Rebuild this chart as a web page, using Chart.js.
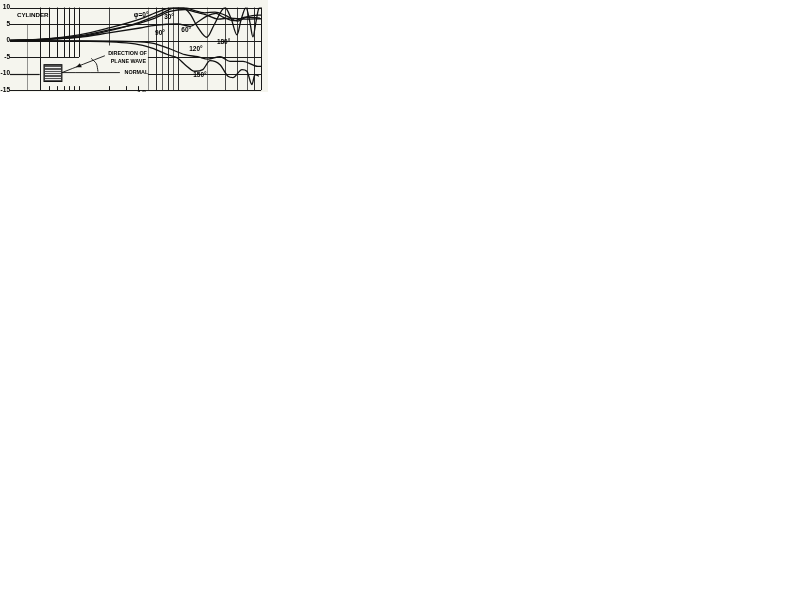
<!DOCTYPE html>
<html><head><meta charset="utf-8">
<style>html,body{margin:0;padding:0;background:#fff}#w{position:absolute;left:0;top:0;width:268px;height:92px;overflow:hidden}canvas{display:block}</style>
<script src="https://cdn.jsdelivr.net/npm/chart.js@4"></script></head>
<body><div id="w"><canvas id="c" width="268" height="94"></canvas></div>
<script>
const yTicks=[10,5,0,-5,-10,-15];
const phi0=[[.2,.05],[.4,.35],[1,1.7],[2,3.8],[4.15,6.5],[6.6,8.9],[8.8,10],[11.9,10],[14.3,9.2],[18.9,8.4],[23.9,8.6],[30.2,7.7],[40.9,5.9],[50.4,7.2],[65.2,7.7],[70,7.7]];
const phi30=[[.2,.05],[.4,.3],[1,1.4],[2,3.2],[4.15,5.3],[5.9,6.8],[8.4,8.8],[11.9,9.4],[15.7,8.5],[19.8,7.7],[25.7,6.5],[33.9,6.8],[48,6.5],[70,6.6]];
const phi60=[[.2,.05],[1,1],[2,2.3],[4.15,3.8],[5.9,4.6],[10,5],[13.4,4.3],[16,5.6],[19.8,7.4],[24.5,8.2],[28.8,7.1],[38.1,6],[48.2,7.1],[68.3,6.8]];
const phi180=[[.2,.05],[.4,.2],[1,1.1],[2,2.9],[4.15,5.6],[6.6,8],[8.8,9.7],[11.3,10],[13.4,8],[16,4],[19.8,1],[23.4,4.7],[30.2,10],[34.7,6.8],[40,1.7],[43.9,6.2],[49.3,10],[54,5.6],[58,1.1],[62.2,5.6],[66.7,9.8],[70,10]];
const phi120=[[.2,-.05],[1,-.1],[3.7,-.3],[5.5,-.8],[8,-2.3],[11.9,-4.3],[16,-4.9],[20.3,-5.6],[26.9,-4.9],[33.9,-6.3],[46,-6.3],[65,-7.8],[70,-7.8]];
const phi150=[[.2,-.05],[1,-.2],[3.7,-1],[5.5,-2.3],[8,-4.3],[10,-5.3],[11.9,-7.3],[15,-9.3],[18,-8.8],[21.3,-6.1],[26.9,-7.3],[32.4,-10.8],[36.4,-11.2],[44.9,-8.8],[50.4,-9.3],[56.6,-13.3],[60.8,-10.3],[66.7,-10.8]];
const directionLine=[[.672,-9.7],[1.83,-4.6]];
const normalLine=[[.672,-9.7],[2.6,-9.7]];
const angleArc=[[1.33,-5.4],[1.5,-7],[1.56,-9.4]];
// vertical rules: ka, dB from, dB to
const vRules=[[.3,5,-15,.45],[.4,10,-15,1],[.5,10,-5,1],[.6,10,-5,1],[.7,10,-5,1],[.8,10,-5,1],[.9,10,-5,1],[1,10,-5,1],[2,10,-1.5,.8],
 [5,10,-15,.5],[6,10,-15,.9],[7,10,-15,.7],[8,10,-15,.9],[9,10,-15,.7],[10,10,-15,.9],[20,10,-15,.5],[30,10,-15,.8],[40,10,-15,.8],[50,10,-15,.7],[60,10,-15,.9],[70,10,-15,1],
 [.5,-13.8,-15,1],[.6,-13.8,-15,1],[.7,-13.8,-15,1],[.8,-13.8,-15,1],[.9,-13.8,-15,1],[1,-13.8,-15,1],[2,-13.8,-15,1],[3,-13.8,-15,1],[4,-13.8,-15,1]];
// horizontal rules: dB, ka from, ka to
const hRules=[[10,.2,70],[5,.2,70],[0,.2,70],[-5,.2,1],[-5,5,70],[-10,.2,.4],[-10,5,70],[-15,.2,70]];
const labels=[["CYLINDER",.235,7.6,6.2],["\u03c6=0\u00b0",3.6,7.6,6.5],["30\u00b0",7.3,7.1,6.5],["90\u00b0",5.9,2.1,6.5],["60\u00b0",10.9,3.2,6.5],["180\u00b0",25,-.5,6.5],["120\u00b0",13.1,-2.6,6.5],["150\u00b0",14.4,-10.6,6.5],["DIRECTION OF",1.98,-4,5.4],["PLANE WAVE",2.1,-6.2,5.4],["NORMAL",2.9,-9.7,5.4],["4.0",3.85,-15.9,6.5]];
const cylinderBox=[.442,.672,-7.3,-12.4];
const cylinderStripes=[-8,-8.8,-9.5,-10.2,-11,-11.6];
const arrowHead=[1.02,-7.6];

const series=[phi0,phi30,phi60,phi180,phi120,phi150];
const pts=a=>a.map(p=>({x:p[0],y:p[1]}));
const ds=series.map(s=>({data:pts(s),borderColor:'#111',borderWidth:1.3,pointRadius:0,cubicInterpolationMode:'monotone',fill:false}));
[directionLine,normalLine,angleArc].forEach(s=>ds.push({data:pts(s),borderColor:'#111',borderWidth:.9,pointRadius:0,tension:.3,fill:false}));

const decor={id:'decor',
 beforeDraw(ch){const c=ch.ctx;c.save();c.fillStyle='#f5f5ee';c.fillRect(0,0,ch.width,ch.height);c.restore();},
 beforeDatasetsDraw(ch){const c=ch.ctx,X=ch.scales.x,Y=ch.scales.y;c.save();c.strokeStyle='#1a1a1a';
  vRules.forEach(r=>{c.globalAlpha=r[3];c.lineWidth=1;const x=Math.round(X.getPixelForValue(r[0]))+.5;c.beginPath();c.moveTo(x,Y.getPixelForValue(r[1]));c.lineTo(x,Y.getPixelForValue(r[2]));c.stroke();});
  c.globalAlpha=1;
  hRules.forEach(r=>{c.lineWidth=1.2;const y=Math.round(Y.getPixelForValue(r[0]))+.5;c.beginPath();c.moveTo(X.getPixelForValue(r[1]),y);c.lineTo(X.getPixelForValue(r[2]),y);c.stroke();});
  c.restore();},
 afterDatasetsDraw(ch){const c=ch.ctx,X=ch.scales.x,Y=ch.scales.y;c.save();
  const x0=X.getPixelForValue(cylinderBox[0]),x1=X.getPixelForValue(cylinderBox[1]),y0=Y.getPixelForValue(cylinderBox[2]),y1=Y.getPixelForValue(cylinderBox[3]);
  c.fillStyle='#555';c.fillRect(x0,y0,x1-x0,y1-y0);c.strokeStyle='#111';c.lineWidth=1;c.strokeRect(x0,y0,x1-x0,y1-y0);
  c.strokeStyle='#eee';cylinderStripes.forEach(v=>{const y=Math.round(Y.getPixelForValue(v))+.5;c.beginPath();c.moveTo(x0+1,y);c.lineTo(x1-1,y);c.stroke();});
  const ax=X.getPixelForValue(arrowHead[0]),ay=Y.getPixelForValue(arrowHead[1]);
  c.fillStyle='#111';c.beginPath();c.moveTo(ax-4,ay+1.6);c.lineTo(ax+2,ay+1.5);c.lineTo(ax,ay-2.5);c.closePath();c.fill();
  c.textAlign='left';c.textBaseline='middle';
  labels.forEach(l=>{c.font='bold '+l[3]+'px "Liberation Sans"';c.fillStyle='#000';c.fillText(l[0],X.getPixelForValue(l[1]),Y.getPixelForValue(l[2]));});
  c.restore();}
};
new Chart(document.getElementById('c'),{type:'line',data:{datasets:ds},plugins:[decor],options:{
 responsive:false,animation:false,devicePixelRatio:1,
 layout:{padding:{top:7.5,right:7,bottom:1.5,left:0}},
 plugins:{legend:{display:false},tooltip:{enabled:false}},
 scales:{
  x:{type:'logarithmic',min:.2,max:70,afterFit(a){a.height=0;},grid:{display:false,drawTicks:false,tickLength:0},border:{display:false},ticks:{display:false}},
  y:{min:-15,max:10,afterFit(a){a.width=10;},afterBuildTicks(a){a.ticks=yTicks.map(v=>({value:v}));},
     grid:{display:false,drawTicks:false,tickLength:0},border:{display:false},
     ticks:{padding:0,color:'#000',font:{size:6.5,weight:'bold',family:'"Liberation Sans"'},callback:v=>String(v)}}
 }}});
</script></body></html>
